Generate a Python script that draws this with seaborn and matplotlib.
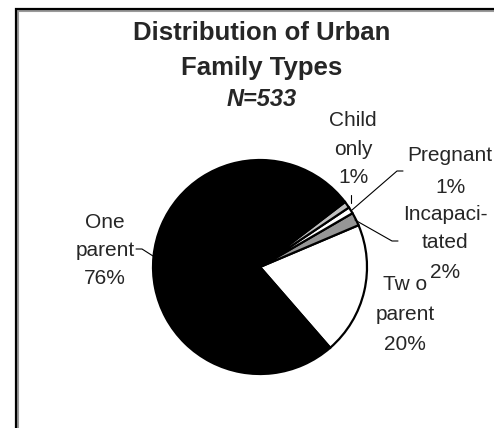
import matplotlib
matplotlib.use("Agg")
import matplotlib.pyplot as plt
from matplotlib.patches import Rectangle
import seaborn as sns

# ---- data ----
categories = ["Two parent", "Incapacitated", "Pregnant", "Child only", "One parent"]
percents = [20, 2, 1, 1, 76]
slice_colors = ["#ffffff", "#969696", "#ffffff", "#c0c0c0", "#000000"]
label_lines = {
    "One parent": ["One", "parent", "76%"],
    "Child only": ["Child", "only", "1%"],
    "Pregnant": ["Pregnant", "1%"],
    "Incapacitated": ["Incapaci-", "tated", "2%"],
    "Two parent": ["Tw o", "parent", "20%"],
}
title_lines = ["Distribution of Urban", "Family Types"]
subtitle = "N=533"

sns.set_theme(style="white")
plt.rcParams["font.family"] = ["Liberation Sans", "DejaVu Sans"]

W, H = 494, 428
fig = plt.figure(figsize=(W / 100, H / 100), dpi=100)
fig.patch.set_facecolor("white")
ax = fig.add_axes([0, 0, 1, 1])

def Y(y):
    return H - y

cx, cy, r = 260, 267, 107
ax.pie(percents, colors=slice_colors, startangle=-49, counterclock=True,
       center=(cx, Y(cy)), radius=r,
       wedgeprops=dict(edgecolor="black", linewidth=1.6))
ax.set_xlim(0, W)
ax.set_ylim(0, H)
ax.set_aspect("equal")
ax.axis("off")

# chart-area frame (only top and left edges fall inside the image)
ax.add_patch(Rectangle((17.5, Y(H + 20)), W + 20, H + 20 - 10.5, fill=False,
                       edgecolor="#9a9a9a", linewidth=1.5, clip_on=False))
ax.add_patch(Rectangle((16, Y(H + 20)), W + 20, H + 20 - 9, fill=False,
                       edgecolor="black", linewidth=1.6, clip_on=False))

# title
tfs = 18.5
ax.text(262, Y(40), title_lines[0], ha="center", va="baseline",
        fontsize=tfs, fontweight="bold")
ax.text(262, Y(75), title_lines[1], ha="center", va="baseline",
        fontsize=tfs, fontweight="bold")
ax.text(262, Y(106), subtitle, ha="center", va="baseline",
        fontsize=17, fontweight="bold", style="italic")

lfs = 15
label_pos = {
    "One parent": (105, [228, 256, 284]),
    "Child only": (353, [126, 155, 183]),
    "Pregnant": (450, [161, 193]),
    "Incapacitated": (445, [220, 248, 278]),
    "Two parent": (405, [290, 320, 350]),
}
for cat in categories:
    x, ys = label_pos[cat]
    for line, y in zip(label_lines[cat], ys):
        ax.text(x, Y(y), line, ha="center", va="baseline", fontsize=lfs)

# leader lines
leaders = [
    [(136, 249), (142, 249), (153, 256)],
    [(351, 195), (351, 203)],
    [(352, 210), (397, 171), (403, 171)],
    [(355, 220), (392, 241), (398, 241)],
]
for pts in leaders:
    ax.plot([p[0] for p in pts], [Y(p[1]) for p in pts], color="black",
            linewidth=0.8)

fig.savefig("out.png", dpi=100, facecolor="white")
